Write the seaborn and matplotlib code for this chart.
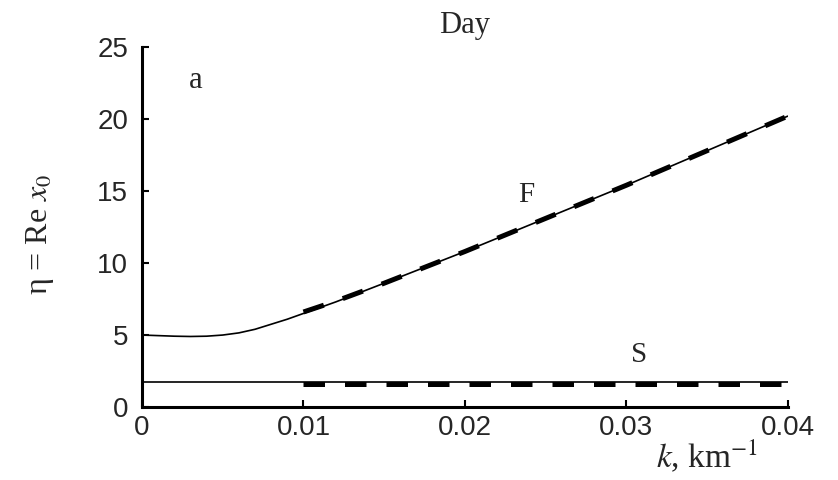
import matplotlib
matplotlib.use("Agg")
import matplotlib.pyplot as plt
import seaborn as sns
import pandas as pd

# Fast (F) and slow (S) mode curves, eta = Re x0 versus wavenumber k
k_full = [0.0, 0.001, 0.002, 0.003, 0.004, 0.005, 0.006, 0.007, 0.008, 0.009,
          0.010, 0.012, 0.015, 0.020, 0.025, 0.030, 0.035, 0.040]
f_full = [5.0, 4.96, 4.92, 4.9, 4.92, 5.0, 5.15, 5.4, 5.75, 6.1,
          6.5, 7.3, 8.6, 10.8, 13.1, 15.4, 17.8, 20.2]
s_full = [1.75] * len(k_full)

k_approx = [0.010, 0.012, 0.015, 0.020, 0.025, 0.030, 0.035, 0.040]
f_approx = [6.6, 7.35, 8.6, 10.8, 13.1, 15.4, 17.8, 20.2]
s_approx = [1.6] * len(k_approx)

x_ticks = [0, 0.01, 0.02, 0.03, 0.04]
x_tick_labels = ["0", "0.01", "0.02", "0.03", "0.04"]
y_ticks = [0, 5, 10, 15, 20, 25]
y_tick_labels = ["0", "5", "10", "15", "20", "25"]

sns.set_theme(style="white")
plt.rcParams["mathtext.fontset"] = "stix"

fig = plt.figure(figsize=(8.38, 4.8), dpi=100)
ax = fig.add_axes([0.1695, 0.152, 0.7705, 0.75])

full = pd.DataFrame({"k": k_full, "F": f_full, "S": s_full})
approx = pd.DataFrame({"k": k_approx, "F": f_approx, "S": s_approx})

for col in ["F", "S"]:
    sns.lineplot(data=full, x="k", y=col, ax=ax, color="black", linewidth=1.2)
    sns.lineplot(data=approx, x="k", y=col, ax=ax, color="black",
                 linewidth=3.6, dashes=False, linestyle=(0, (4.3, 4.0)))

ax.set_xlim(0, 0.04)
ax.set_ylim(0, 25)
ax.set_xticks(x_ticks)
ax.set_xticklabels(x_tick_labels, family="Liberation Sans", fontsize=20)
ax.set_yticks(y_ticks)
ax.set_yticklabels(y_tick_labels, family="Liberation Sans", fontsize=20)
ax.tick_params(direction="in", length=5, width=1.5, color="black",
               left=True, bottom=True)
ax.tick_params(axis="x", pad=6)
ax.tick_params(axis="y", pad=10)

for side in ["top", "right"]:
    ax.spines[side].set_visible(False)
for side in ["left", "bottom"]:
    ax.spines[side].set_color("black")
    ax.spines[side].set_linewidth(2.2)

serif = "Liberation Serif"
ax.set_xlabel(r"$k$, km$^{-1}$", fontsize=24, family=serif, va="baseline")
ax.xaxis.set_label_coords(0.875, -0.1667)
ax.set_ylabel(r"η = Re $x_0$", fontsize=23, family=serif, va="center")
ax.yaxis.set_label_coords(-0.158, 0.48)

ax.text(0.02, 26.0, "Day", fontsize=22, family=serif, ha="center", va="baseline", clip_on=False)
ax.text(0.0033, 22.15, "a", fontsize=22, family=serif, ha="center", va="baseline")
ax.text(0.0238, 14.24, "F", fontsize=21, family=serif, ha="center", va="baseline")
ax.text(0.0308, 3.125, "S", fontsize=21, family=serif, ha="center", va="baseline")

fig.savefig("out.png", dpi=100)
